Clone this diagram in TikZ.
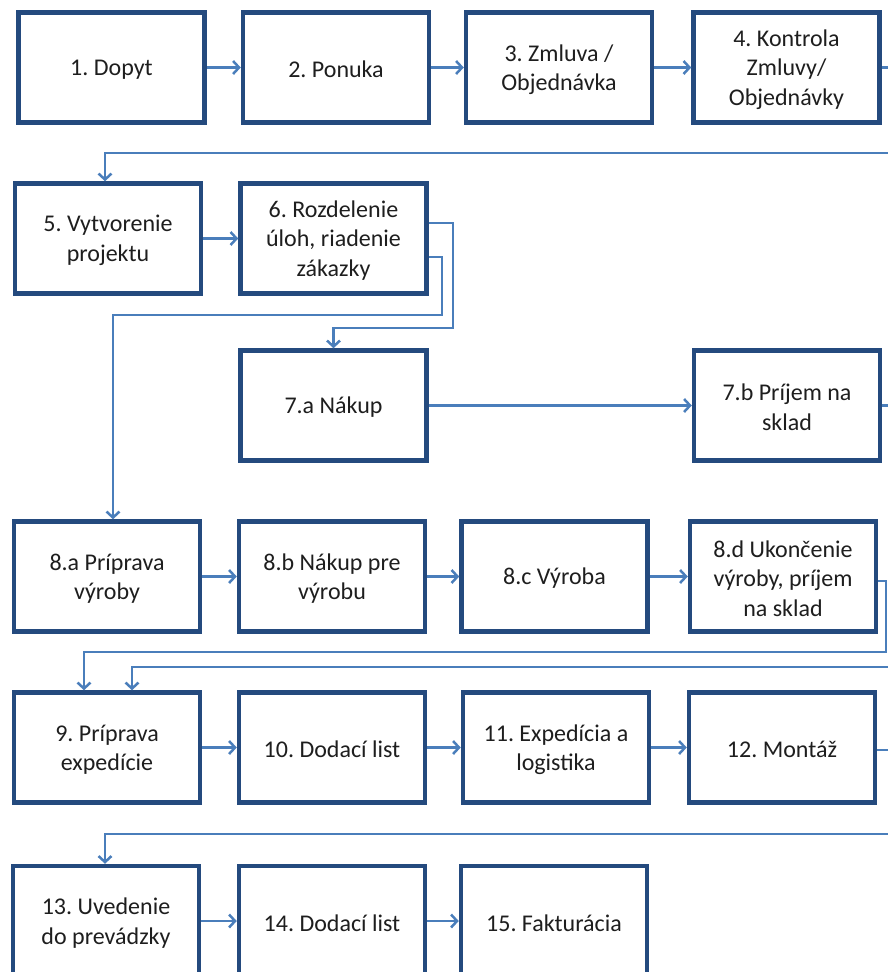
\documentclass[tikz,border=0pt]{standalone}
\usepackage{fontspec}
\setmainfont{Carlito}
\usetikzlibrary{arrows.meta}
\definecolor{boxc}{RGB}{36,74,126}
\definecolor{connc}{RGB}{74,126,187}
\definecolor{txtc}{RGB}{30,30,30}
\frenchspacing
\newcommand\bx[3]{\node[box] (#1) at (#2) {};
  \node[lbl] at ([yshift=-2pt]#1.center) {#3};}
\begin{document}
\begin{tikzpicture}[x=1pt,y=-1pt,
  box/.style={draw=boxc, line width=4.5pt, minimum width=186pt, minimum height=110pt, fill=white},
  lbl/.style={align=center, font=\fontsize{24}{29.5}\selectfont\frenchspacing, text=txtc, inner sep=0pt},
  conn/.style={draw=connc, line width=2.5pt, -{Straight Barb[length=6pt,width=13pt]}}]
\useasboundingbox (0,0) rectangle (888,972);
% row 1
\bx{b1}{111.5,67.5}{1. Dopyt}
\bx{b2}{336,67.5}{2. Ponuka}
\bx{b3}{559,67.5}{3. Zmluva /\\Objednávka}
\bx{b4}{786.5,67.5}{4. Kontrola\\Zmluvy/\\Objednávky}
% row 2
\bx{b5}{108,238.5}{5. Vytvorenie\\projektu}
\bx{b6}{333.5,238.5}{6. Rozdelenie\\úloh, riadenie\\zákazky}
% row 3
\bx{b7a}{333.5,405.5}{7.a Nákup}
\bx{b7b}{787,405.5}{7.b Príjem na\\sklad}
% row 4
\bx{b8a}{107,576.5}{8.a Príprava\\výroby}
\bx{b8b}{332,576.5}{8.b Nákup pre\\výrobu}
\bx{b8c}{554.5,576.5}{8.c Výroba}
\bx{b8d}{783,576.5}{8.d Ukončenie\\výroby, príjem\\na sklad}
% row 5
\bx{b9}{107,747.5}{9. Príprava\\expedície}
\bx{b10}{332,747.5}{10. Dodací list}
\bx{b11}{556,747.5}{11. Expedícia a\\logistika}
\bx{b12}{782,747.5}{12. Montáž}
% row 6
\bx{b13}{106,921}{13. Uvedenie\\do prevádzky}
\bx{b14}{332,921}{14. Dodací list}
\bx{b15}{554,921}{15. Fakturácia}
% turning points
\coordinate (t4) at (900,153);
\coordinate (t6a) at (453,328);
\coordinate (t6b) at (442,315);
\coordinate (t7b) at (900,667);
\coordinate (t8d) at (886,652);
\coordinate (t12) at (900,834);
% connectors
\draw[conn] (b1.east) -- (b2.west);
\draw[conn] (b2.east) -- (b3.west);
\draw[conn] (b3.east) -- (b4.west);
\draw[conn] (b4.east) -| (t4) -| ([xshift=-3pt]b5.north);
\draw[conn] (b5.east) -- (b6.west);
\draw[conn] ([yshift=15.5pt]b6.east) -| (t6a) -| (b7a.north);
\draw[conn] ([yshift=-18.5pt]b6.east) -| (t6b) -| ([xshift=6pt]b8a.north);
\draw[conn] (b7a.east) -- (b7b.west);
\draw[conn] (b7b.east) -| (t7b) -| ([xshift=25pt]b9.north);
\draw[conn] (b8a.east) -- (b8b.west);
\draw[conn] (b8b.east) -- (b8c.west);
\draw[conn] (b8c.east) -- (b8d.west);
\draw[conn] ([yshift=-4.5pt]b8d.east) -| (t8d) -| ([xshift=-23pt]b9.north);
\draw[conn] (b9.east) -- (b10.west);
\draw[conn] (b10.east) -- (b11.west);
\draw[conn] (b11.east) -- (b12.west);
\draw[conn] ([yshift=-2.5pt]b12.east) -| (t12) -| ([xshift=-1pt]b13.north);
\draw[conn] (b13.east) -- (b14.west);
\draw[conn] (b14.east) -- (b15.west);
\end{tikzpicture}
\end{document}
